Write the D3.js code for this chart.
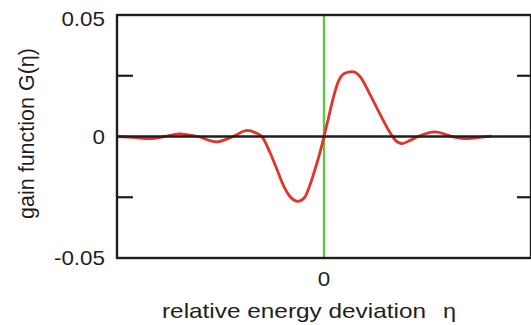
<!DOCTYPE html>
<html><head><meta charset="utf-8">
<script src="https://cdn.jsdelivr.net/npm/d3@7"></script>
<style>body{margin:0;background:#fff}svg{display:block}</style>
</head><body>
<svg id="c" width="531" height="325"></svg>
<script>
const eta = [-1.0,-0.92,-0.84,-0.77,-0.70,-0.61,-0.52,-0.44,-0.37,-0.33,-0.300,-0.261,-0.227,-0.198,-0.164,-0.126,-0.095,-0.070,-0.045,-0.022,0,0.022,0.045,0.070,0.100,0.135,0.174,0.222,0.271,0.319,0.345,0.377,0.418,0.454,0.536,0.618,0.696,0.75,0.81];
const G = [0.0,-0.0004,-0.0009,0.0,0.0011,0.0,-0.0022,0.0,0.0025,0.0015,0.0,-0.0066,-0.0136,-0.0198,-0.0247,-0.0267,-0.0252,-0.0205,-0.0140,-0.0074,0.0,0.0078,0.0160,0.0228,0.0260,0.0267,0.0247,0.0173,0.0091,0.0016,-0.0015,-0.0029,-0.0015,0.0,0.0019,0.0,-0.0009,-0.0004,0.0002];
const yTicks = [-0.05, 0, 0.05];
const yMinor = [-0.025, 0.025];
const xTicks = [0];

const svg = d3.select("#c");
const L=117,R=531,T=15,B=258;
const x = d3.scaleLinear().domain([-1,1]).range([L,R]);
const y = d3.scaleLinear().domain([-0.05,0.05]).range([B,T]);
const font = "'Liberation Sans', Arial, sans-serif";
const ink = "#1e1e1e";
const sx = 1.12;

svg.append("line").attr("x1",x(0)).attr("x2",x(0)).attr("y1",T).attr("y2",B)
  .attr("stroke","#62c545").attr("stroke-width",2.4);

const pts = eta.map((e,i)=>[e,G[i]]);
svg.append("path").datum(pts)
  .attr("d", d3.line().x(d=>x(d[0])).y(d=>y(d[1])).curve(d3.curveMonotoneX))
  .attr("fill","none").attr("stroke","#e2342a").attr("stroke-width",2.8);

svg.append("line").attr("x1",L).attr("x2",R).attr("y1",y(0)).attr("y2",y(0))
  .attr("stroke",ink).attr("stroke-width",2.6);

svg.append("rect").attr("x",L).attr("y",T).attr("width",R-L).attr("height",B-T)
  .attr("fill","none").attr("stroke",ink).attr("stroke-width",2.4);

yMinor.forEach(v=>{
  svg.append("line").attr("x1",L).attr("x2",L+16).attr("y1",y(v)).attr("y2",y(v)).attr("stroke",ink).attr("stroke-width",2.2);
  svg.append("line").attr("x1",R-14).attr("x2",R).attr("y1",y(v)).attr("y2",y(v)).attr("stroke",ink).attr("stroke-width",2.2);
});

svg.selectAll("text.yt").data(yTicks).join("text")
  .attr("transform",d=>`translate(105,${y(d)+(d===0.05?4:0)}) scale(${sx},1)`)
  .attr("dy","0.36em")
  .attr("text-anchor","end").attr("font-family",font).attr("font-size",20).attr("fill",ink)
  .text(d=>d===0?"0":d3.format(".2f")(d).replace("−","-"));

svg.selectAll("text.xt").data(xTicks).join("text")
  .attr("transform",d=>`translate(${x(d)},278.5) scale(${sx},1)`)
  .attr("dy","0.36em")
  .attr("text-anchor","middle").attr("font-family",font).attr("font-size",20).attr("fill",ink)
  .text(d=>String(d));

svg.append("text").attr("transform","translate(162,318) scale(1.16,1)")
  .attr("text-anchor","start")
  .attr("font-family",font).attr("font-size",21).attr("fill",ink)
  .text("relative energy deviation");
svg.append("text").attr("transform","translate(443,318) scale(1.12,1)")
  .attr("text-anchor","start")
  .attr("font-family",font).attr("font-size",21).attr("fill",ink)
  .text("η");
svg.append("text").attr("transform","translate(34,133.5) rotate(-90)")
  .attr("text-anchor","middle").attr("font-family",font).attr("font-size",21.5)
  .attr("fill",ink)
  .text("gain function G(η)");
</script>
</body></html>
